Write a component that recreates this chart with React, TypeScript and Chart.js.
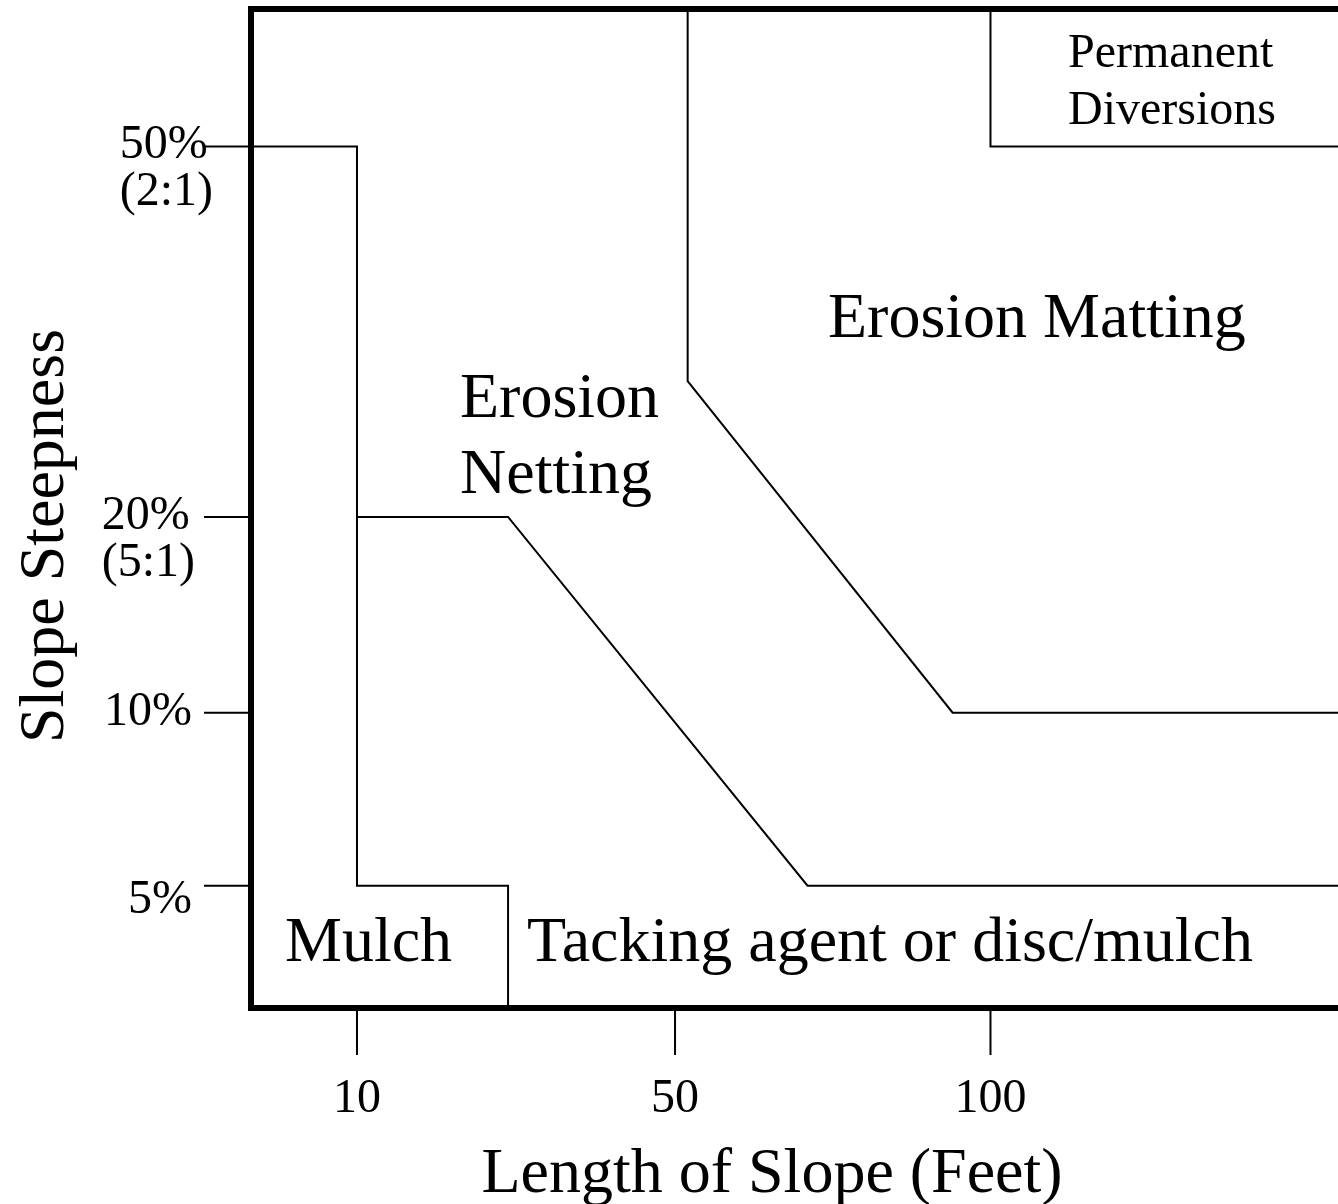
import { useEffect, useRef } from "react";
import { Chart, registerables } from "chart.js";

Chart.register(...registerables);

// ---------------- Data (real units: feet, percent) ----------------
const X_TICK_FEET = [10, 50, 100];
const X_TICK_LABELS = ["10", "50", "100"];
const Y_TICK_PCT = [5, 10, 20, 50];
const Y_TICK_LABELS = [["5%"], ["10%"], ["20%", "(5:1)"], ["50%", "(2:1)"]];

// Boundary lines between the treatment zones
const MULCH_FT = [0, 10, 10, 29, 29];
const MULCH_PCT = [50, 50, 5, 5, 0];
const NETTING_FT = [10, 29, 71, 155];
const NETTING_PCT = [20, 20, 5, 5];
const MATTING_FT = [52, 52, 94, 155];
const MATTING_PCT = [60, 31, 10, 10];
const DIVERSION_FT = [100, 100, 155];
const DIVERSION_PCT = [60, 50, 50];

// ---------------- Axis layout (schematic, non-uniform spacing) ----------------
const X_AXIS_FEET = [0, 10, 50, 100, 155];
const X_AXIS_POS = [0, 0.0975, 0.3901, 0.6803, 1];
const Y_AXIS_PCT = [0, 5, 10, 20, 50, 60];
const Y_AXIS_POS = [0, 0.1224, 0.2956, 0.4915, 0.8624, 1];

function interp(v: number, xs: number[], ys: number[]): number {
  if (v <= xs[0]) return ys[0] + ((v - xs[0]) * (ys[1] - ys[0])) / (xs[1] - xs[0]);
  for (let i = 1; i < xs.length; i++) {
    if (v <= xs[i]) {
      return ys[i - 1] + ((v - xs[i - 1]) * (ys[i] - ys[i - 1])) / (xs[i] - xs[i - 1]);
    }
  }
  const n = xs.length - 1;
  return ys[n] + ((v - xs[n]) * (ys[n] - ys[n - 1])) / (xs[n] - xs[n - 1]);
}
const xPos = (ft: number) => interp(ft, X_AXIS_FEET, X_AXIS_POS);
const yPos = (pct: number) => interp(pct, Y_AXIS_PCT, Y_AXIS_POS);

const toPoints = (fts: number[], pcts: number[]) =>
  fts.map((f, i) => ({ x: xPos(f), y: yPos(pcts[i]) }));

// ---------------- Styles ----------------
const FONT = '"Liberation Serif", "Times New Roman", Times, serif';
const TICK_FONT = `48px ${FONT}`;
const BIG_FONT = `64px ${FONT}`;
const Y_LABEL_NUDGE = [
  { dx: 0, dy: 15 },
  { dx: 0, dy: 0 },
  { dx: 0, dy: 0 },
  { dx: 18, dy: 0 },
];
const ZONE_LABELS = [
  { lines: ["Permanent", "Diversions"], x: 1068, y: 67, lh: 57, font: TICK_FONT },
  { lines: ["Erosion Matting"], x: 828, y: 337, lh: 0, font: BIG_FONT },
  { lines: ["Erosion", "Netting"], x: 460, y: 417, lh: 76, font: BIG_FONT },
  { lines: ["Mulch"], x: 285, y: 961, lh: 0, font: BIG_FONT },
  { lines: ["Tacking agent or disc/mulch"], x: 527, y: 961, lh: 0, font: BIG_FONT },
];

const schematicPlugin = {
  id: "schematic",
  afterDatasetsDraw(chart: any) {
    const { ctx, chartArea: a, scales } = chart;
    const px = (ft: number) => scales.x.getPixelForValue(xPos(ft));
    const py = (p: number) => scales.y.getPixelForValue(yPos(p));
    ctx.save();
    ctx.strokeStyle = "#000";
    ctx.fillStyle = "#000";

    // tick marks
    ctx.lineWidth = 2;
    ctx.beginPath();
    X_TICK_FEET.forEach((f) => {
      const x = px(f);
      ctx.moveTo(x, a.bottom);
      ctx.lineTo(x, a.bottom + 47);
    });
    Y_TICK_PCT.forEach((p) => {
      const y = py(p);
      ctx.moveTo(a.left - 47, y);
      ctx.lineTo(a.left, y);
    });
    ctx.stroke();

    // frame (left, top, bottom)
    ctx.lineWidth = 6;
    ctx.lineJoin = "miter";
    ctx.beginPath();
    ctx.moveTo(a.right + 10, a.top);
    ctx.lineTo(a.left, a.top);
    ctx.lineTo(a.left, a.bottom);
    ctx.lineTo(a.right + 10, a.bottom);
    ctx.stroke();

    // x tick labels
    ctx.font = TICK_FONT;
    ctx.textBaseline = "alphabetic";
    ctx.textAlign = "center";
    X_TICK_FEET.forEach((f, i) => {
      ctx.fillText(X_TICK_LABELS[i], px(f), a.bottom + 104);
    });

    // y tick labels
    const labelRight = a.left - 59;
    Y_TICK_PCT.forEach((p, i) => {
      const lines = Y_TICK_LABELS[i];
      const nudge = Y_LABEL_NUDGE[i];
      const base = py(p) + 12 + nudge.dy;
      if (lines.length === 1) {
        ctx.textAlign = "right";
        ctx.fillText(lines[0], labelRight + nudge.dx, base);
      } else {
        const w = Math.max(...lines.map((l) => ctx.measureText(l).width));
        ctx.textAlign = "left";
        const left = labelRight + 3 - w + nudge.dx;
        lines.forEach((l, j) => ctx.fillText(l, left, base + j * 47));
      }
    });

    // axis titles
    ctx.font = BIG_FONT;
    ctx.textAlign = "center";
    ctx.fillText("Length of Slope (Feet)", 772, 1192);
    ctx.save();
    ctx.translate(63, 536);
    ctx.rotate(-Math.PI / 2);
    ctx.fillText("Slope Steepness", 0, 0);
    ctx.restore();

    // zone labels
    ctx.textAlign = "left";
    ZONE_LABELS.forEach((z) => {
      ctx.font = z.font;
      z.lines.forEach((l, j) => ctx.fillText(l, z.x, z.y + j * z.lh));
    });
    ctx.restore();
  },
};

export default function App() {
  const ref = useRef<HTMLCanvasElement | null>(null);
  useEffect(() => {
    document.body.style.margin = "0";
    const canvas = ref.current;
    if (!canvas) return;
    const lineDs = (label: string, fts: number[], pcts: number[]) => ({
      label,
      data: toPoints(fts, pcts),
      showLine: true,
      borderColor: "#000",
      borderWidth: 2,
      pointRadius: 0,
      tension: 0,
      fill: false,
      clip: false as any,
    });
    const chart = new Chart(canvas, {
      type: "scatter",
      data: {
        datasets: [
          lineDs("Mulch limit", MULCH_FT, MULCH_PCT),
          lineDs("Netting limit", NETTING_FT, NETTING_PCT),
          lineDs("Matting limit", MATTING_FT, MATTING_PCT),
          lineDs("Diversion limit", DIVERSION_FT, DIVERSION_PCT),
        ],
      },
      options: {
        animation: false,
        responsive: false,
        events: [],
        layout: { padding: { left: 251, top: 9, right: 0, bottom: 196 } },
        plugins: { legend: { display: false }, tooltip: { enabled: false } },
        scales: {
          x: { type: "linear", min: 0, max: 1, display: false },
          y: { type: "linear", min: 0, max: 1, display: false },
        },
      },
      plugins: [schematicPlugin],
    });
    let alive = true;
    if ((document as any).fonts?.load) {
      (document as any).fonts.load(TICK_FONT).then(() => {
        if (alive) chart.draw();
      });
    }
    return () => {
      alive = false;
      chart.destroy();
    };
  }, []);
  return (
    <div style={{ width: 1338, height: 1204 }}>
      <canvas ref={ref} width={1338} height={1204} style={{ display: "block" }} />
    </div>
  );
}
